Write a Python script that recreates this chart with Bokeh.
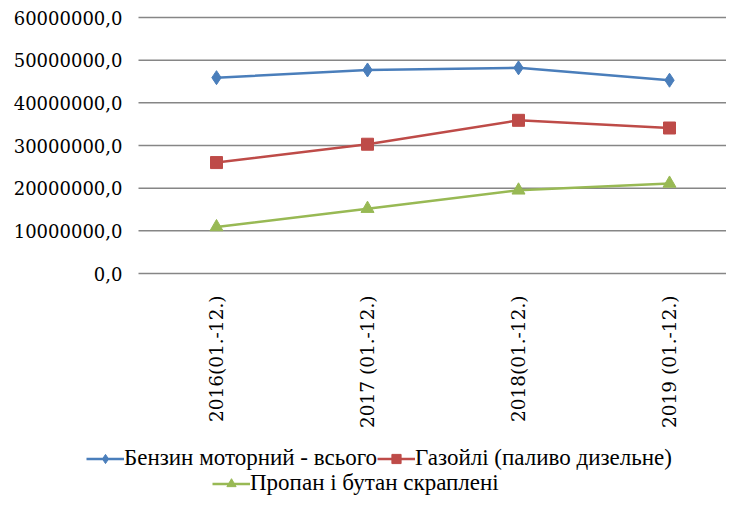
from bokeh.plotting import figure
from bokeh.models import Legend, LegendItem, Range1d, ColumnDataSource
from bokeh.core.properties import value
from bokeh.embed import file_html
from bokeh.resources import INLINE
import math

categories = ["2016(01.-12.)", "2017 (01.-12.)", "2018(01.-12.)", "2019 (01.-12.)"]
petrol = [45900000, 47700000, 48200000, 45300000]
gasoil = [26000000, 30300000, 35900000, 34100000]
lpg = [10900000, 15200000, 19500000, 21100000]
names = ["Бензин моторний - всього", "Газойлі (паливо дизельне)", "Пропан і бутан скраплені"]
y_ticks = [0, 10000000, 20000000, 30000000, 40000000, 50000000, 60000000]
y_tick_labels = ["0,0", "10000000,0", "20000000,0", "30000000,0", "40000000,0", "50000000,0", "60000000,0"]

W, H = 726, 496
x = list(range(len(categories)))

# layout (pixels): plot area left edge 138, first category at 216, 151 px per category,
# value 60M at y=17, value 0 at y=273
cat_px = 151.0
x_start = -216 / cat_px
x_end = x_start + W / cat_px
plot_left = x_start + 138 / cat_px
ppu = 256 / 60000000
y_top = 60000000 + 17 / ppu
y_bottom = -(H - 273) / ppu

p = figure(width=W, height=H, output_backend="svg", toolbar_location=None,
           x_range=Range1d(x_start, x_end), y_range=Range1d(y_bottom, y_top),
           min_border_left=0, min_border_top=0, min_border_right=0, min_border_bottom=0)
p.outline_line_color = None
p.background_fill_color = "white"
p.xaxis.visible = False
p.yaxis.visible = False
p.xgrid.visible = False
p.ygrid.visible = False

AX_FONT = "DejaVu Serif"
LG_FONT = "Liberation Serif"

# horizontal gridlines (value axis)
p.segment(x0=[plot_left] * len(y_ticks), x1=[x_end] * len(y_ticks), y0=y_ticks, y1=y_ticks,
          line_color="#868686", line_width=1.5)

# value-axis labels
ysrc = ColumnDataSource(dict(x=[plot_left] * len(y_ticks), y=y_ticks, t=y_tick_labels))
p.text(x="x", y="y", text="t", source=ysrc, text_align="right", text_baseline="middle",
       x_offset=-16, text_font=value(AX_FONT), text_font_size="18px", text_color="#000000")

# category labels, rotated, hanging below the zero line
cat_src = ColumnDataSource(dict(x=x, y=[0] * len(x), t=categories))
p.text(x="x", y="y", text="t", source=cat_src, angle=math.pi / 2,
       text_align="right", text_baseline="middle", y_offset=22,
       text_font=value(AX_FONT), text_font_size="18.5px", text_color="#000000")

c1, c2, c3 = "#4A7EBB", "#BE4B48", "#98B954"
l1 = p.line(x, petrol, line_color=c1, line_width=2.5)
m1 = p.scatter(x, petrol, marker="diamond", size=14, fill_color=c1, line_color=c1)
l2 = p.line(x, gasoil, line_color=c2, line_width=2.5)
m2 = p.scatter(x, gasoil, marker="square", size=12, fill_color=c2, line_color=c2)
l3 = p.line(x, lpg, line_color=c3, line_width=2.5)
m3 = p.scatter(x, lpg, marker="triangle", size=13, fill_color=c3, line_color=c3)

def mk_legend(items, loc):
    lg = Legend(items=items, location=loc, orientation="horizontal",
                label_text_font=LG_FONT, label_text_font_size="23px", label_text_color="#000000",
                glyph_width=38, glyph_height=23, label_standoff=0, spacing=0,
                padding=0, margin=0, border_line_color=None, background_fill_alpha=0,
                label_height=23)
    p.add_layout(lg, "center")

mk_legend([LegendItem(label=names[0], renderers=[l1, m1]),
           LegendItem(label=names[1], renderers=[l2, m2])], (86, 25))
mk_legend([LegendItem(label=names[2], renderers=[l3, m3])], (212, 0))

open("out.html", "w").write(file_html(p, INLINE))
